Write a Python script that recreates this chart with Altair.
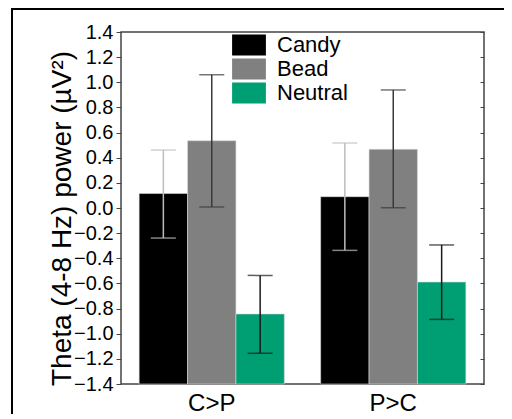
import altair as alt
import pandas as pd

groups = ["C>P", "P>C"]
series = ["Candy", "Bead", "Neutral"]
means = {"C>P": [0.115, 0.535, -0.843], "P>C": [0.09, 0.467, -0.589]}
lows = {"C>P": [-0.239, 0.008, -1.156], "P>C": [-0.337, 0.002, -0.886]}
highs = {"C>P": [0.461, 1.06, -0.536], "P>C": [0.517, 0.939, -0.294]}
bar_colors = ["#000000", "#808080", "#009e73"]
err_colors = ["#bdbdbd", "#3a3a3a", "#1a1a1a"]
y_ticks = [-1.4, -1.2, -1.0, -0.8, -0.6, -0.4, -0.2, 0.0, 0.2, 0.4, 0.6, 0.8, 1.0, 1.2, 1.4]

rows = []
for g in groups:
    for i, s in enumerate(series):
        rows.append({"group": g, "series": s, "mean": means[g][i],
                     "low": lows[g][i], "high": highs[g][i], "ecol": err_colors[i]})
df = pd.DataFrame(rows)

FONT = "Liberation Sans"
yscale = alt.Scale(domain=[-1.4, 1.4], nice=False, zero=False)
xscale = alt.Scale(paddingInner=0.2, paddingOuter=0.1)
offscale = alt.Scale(domain=series, paddingInner=0, paddingOuter=0)
xaxis = alt.Axis(title=None, labelAngle=0, ticks=False, domain=False,
                 labelFontSize=24, labelPadding=7, labelColor="black", labelFont=FONT)

base = alt.Chart(df)
X = alt.X("group:N", scale=xscale, sort=groups, axis=xaxis)
XO = alt.XOffset("series:N", scale=offscale, sort=series)

bars = base.mark_bar(stroke="#d8d8d8", strokeWidth=0.6).encode(
    x=X, xOffset=XO,
    y=alt.Y("mean:Q", scale=yscale,
            axis=alt.Axis(title="Theta (4-8 Hz) power (µV²)", values=y_ticks, format=".1f",
                          domain=False, tickSize=5, tickColor="#444", grid=False,
                          labelFontSize=20, labelPadding=3, labelColor="black", labelFont=FONT,
                          titleFontSize=28, titleFont=FONT, titleFontWeight="normal",
                          titleColor="black", titleBaseline="alphabetic", titleAngle=270,
                          titleX=-51, titleY=186)),
    y2=alt.datum(-1.4),
    color=alt.Color("series:N", scale=alt.Scale(domain=series, range=bar_colors),
                    legend=alt.Legend(title=None, orient="none", legendX=115, legendY=0,
                                      padding=0, rowPadding=0,
                                      symbolType="M-1.3,-0.8H1.3V0.8H-1.3Z", symbolSize=676,
                                      symbolStrokeWidth=0, labelFontSize=22, labelFont=FONT,
                                      labelColor="black", labelOffset=15)),
)

right_ticks = base.mark_point(opacity=0).encode(
    x=X,
    y=alt.Y("mean:Q", scale=yscale,
            axis=alt.Axis(orient="right", title=None, values=y_ticks, labels=False,
                          domain=False, tickSize=4, tickColor="#444", offset=-4, grid=False)),
)

rules = base.mark_rule(strokeWidth=1.5).encode(
    x=X, xOffset=XO,
    y=alt.Y("low:Q", scale=yscale, axis=None),
    y2="high:Q",
    color=alt.Color("ecol:N", scale=None),
)
caps_lo = base.mark_tick(thickness=1.5, size=25).encode(
    x=X, xOffset=XO,
    y=alt.Y("low:Q", scale=yscale, axis=None),
    color=alt.Color("ecol:N", scale=None),
)
caps_hi = base.mark_tick(thickness=1.5, size=25).encode(
    x=X, xOffset=XO,
    y=alt.Y("high:Q", scale=yscale, axis=None),
    color=alt.Color("ecol:N", scale=None),
)

one = pd.DataFrame({"a": [0]})
frame_left = alt.Chart(one).mark_rule(color="black", strokeWidth=2).encode(
    x=alt.value(-109), y=alt.value(-23), y2=alt.value(390))
frame_top = alt.Chart(one).mark_rule(color="black", strokeWidth=2).encode(
    x=alt.value(-110), x2=alt.value(390), y=alt.value(-23))

chart = alt.layer(bars, rules, caps_lo, caps_hi, right_ticks, frame_left, frame_top).resolve_scale(
    color="independent"
).resolve_axis(y="independent").properties(
    width=363, height=352,
    autosize=alt.AutoSizeParams(type="none"),
    padding={"left": 113, "top": 24, "right": 20, "bottom": 30},
).configure_view(stroke="#444", strokeWidth=1.5)

chart.save("out.html", embed_options={"renderer": "svg", "actions": False})
